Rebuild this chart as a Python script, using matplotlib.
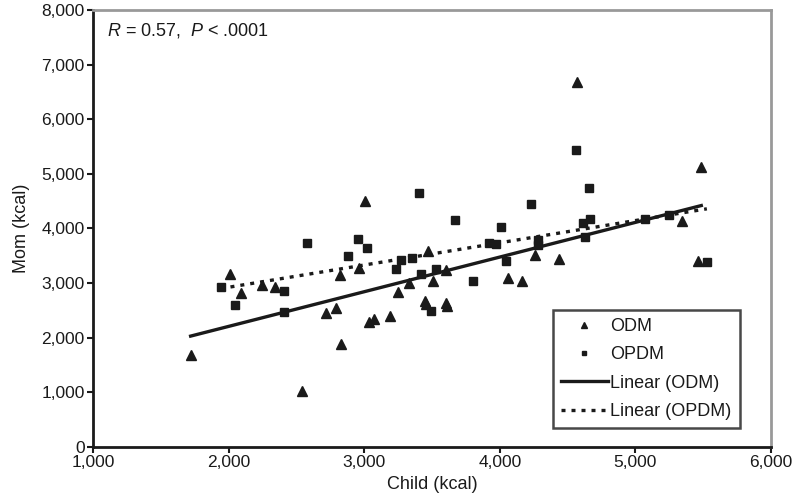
import numpy as np
import matplotlib
matplotlib.use("Agg")
from matplotlib import pyplot as plt
from matplotlib.ticker import FuncFormatter

plt.rcParams['font.family'] = ['Liberation Sans', 'DejaVu Sans']
plt.rcParams['mathtext.fontset'] = 'custom'
plt.rcParams['mathtext.rm'] = 'Liberation Sans'
plt.rcParams['mathtext.it'] = 'Liberation Sans:italic'

# ODM (triangles)
odm_child = [1720, 2010, 2091, 2245, 2343, 2542, 2717, 2791, 2831, 2820,
             2962, 3004, 3036, 3073, 3189, 3250, 3331, 3471, 3508, 3606,
             3447, 3454, 3601, 3611, 4063, 4164, 4262, 4434, 4572, 5343,
             5486, 5461]
odm_mom = [1685, 3169, 2821, 2967, 2930, 1026, 2460, 2540, 1877, 3150,
           3273, 4496, 2284, 2344, 2405, 2833, 2998, 3595, 3046, 3242,
           2674, 2619, 2643, 2582, 3101, 3046, 3516, 3443, 6690, 4139,
           5134, 3407]

# OPDM (squares)
opdm_child = [1941, 2046, 2410, 2410, 2575, 2881, 2956, 3023, 3231, 3275,
              3356, 3417, 3528, 3496, 3404, 3670, 3802, 3918, 3970, 4007,
              4043, 4228, 4281, 4281, 4562, 4655, 4613, 4667, 4625, 5245,
              5071, 5527]
opdm_mom = [2925, 2601, 2863, 2473, 3736, 3498, 3815, 3645, 3266, 3419,
            3456, 3169, 3266, 2491, 4647, 4152, 3046, 3731, 3712, 4024,
            3407, 4456, 3790, 3700, 5440, 4749, 4097, 4176, 3852, 4249,
            4167, 3383]

# trend lines (end points)
odm_fit_x = [1720, 5486]
odm_fit_y = [2030, 4420]
opdm_fit_x = [1941, 5527]
opdm_fit_y = [2900, 4360]

ink = '#1a1a1a'

fig = plt.figure(figsize=(8, 5.04), dpi=100)
ax = fig.add_axes([0.11625, 0.1131, 0.8475, 0.8671])

ax.plot(odm_child, odm_mom, linestyle='none', marker='^', markersize=7,
        color=ink, label='ODM')
ax.plot(opdm_child, opdm_mom, linestyle='none', marker='s', markersize=6,
        color=ink, label='OPDM')
ax.plot(odm_fit_x, odm_fit_y, color=ink, linewidth=2.4, label='Linear (ODM)')
ax.plot(opdm_fit_x, opdm_fit_y, color=ink, linewidth=2.4,
        linestyle=(0, (1.2, 1.8)), label='Linear (OPDM)')

ax.set_xlim(1000, 6000)
ax.set_ylim(0, 8000)
ax.set_xticks(np.arange(1000, 6001, 1000))
ax.set_yticks(np.arange(0, 8001, 1000))
fmt = FuncFormatter(lambda v, p: f'{int(v):,}')
ax.xaxis.set_major_formatter(fmt)
ax.yaxis.set_major_formatter(fmt)
ax.tick_params(direction='out', length=4, width=1.5, color=ink,
               labelsize=12.5, labelcolor=ink, pad=2)

for s in ['left', 'bottom']:
    ax.spines[s].set_color(ink)
    ax.spines[s].set_linewidth(2)
for s in ['top', 'right']:
    ax.spines[s].set_color('#999999')
    ax.spines[s].set_linewidth(2)

ax.set_xlabel('Child (kcal)', fontsize=13, color=ink, labelpad=4)
ax.set_ylabel('Mom (kcal)', fontsize=13, color=ink, labelpad=8)

ax.text(0.021, 0.975, r'$\it{R}$ = 0.57,  $\it{P}$ < .0001', transform=ax.transAxes,
        fontsize=13, color=ink, va='top', ha='left')

leg = ax.legend(loc='lower right', bbox_to_anchor=(0.954, 0.0435), fontsize=13,
                frameon=True, fancybox=False, markerscale=0.6, handlelength=2.6,
                labelspacing=0.62, borderpad=0.45, handletextpad=0.15,
                borderaxespad=0)
leg.get_frame().set_edgecolor(ink)
leg.get_frame().set_linewidth(1.8)
for t in leg.get_texts():
    t.set_color(ink)

fig.savefig('out.png', dpi=100)
